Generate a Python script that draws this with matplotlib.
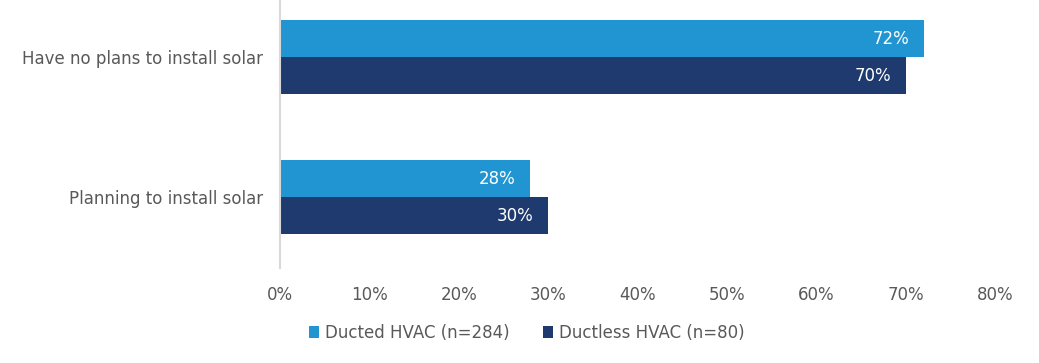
import matplotlib
matplotlib.use("Agg")
import matplotlib.pyplot as plt
import numpy as np

categories = ["Have no plans to install solar", "Planning to install solar"]
ducted = [72, 28]
ductless = [70, 30]
series_names = ["Ducted HVAC (n=284)", "Ductless HVAC (n=80)"]
xticks = [0, 10, 20, 30, 40, 50, 60, 70, 80]

c1 = "#2195D1"
c2 = "#1F3A6F"
tc = "#595959"

plt.rcParams['font.family'] = ['DejaVu Sans']

fig = plt.figure(figsize=(10.39, 3.63), dpi=100)
ax = fig.add_axes([280/1039, 1 - 268/363, (995-280)/1039, 268/363])

y = np.arange(len(categories))
h = 0.265
b1 = ax.barh(y - h/2, ducted, height=h, color=c1, label=series_names[0])
b2 = ax.barh(y + h/2, ductless, height=h, color=c2, label=series_names[1])
for bars, vals in ((b1, ducted), (b2, ductless)):
    for rect, v in zip(bars, vals):
        ax.text(rect.get_width() - 1.6, rect.get_y() + rect.get_height()/2, f"{v}%",
                ha="right", va="center", color="white", fontsize=12)

ax.set_xlim(0, 80)
ax.set_ylim(1.505, -0.41)
ax.set_yticks(y)
ax.set_yticklabels(categories, fontsize=12, color=tc)
ax.set_xticks(xticks)
ax.set_xticklabels([f"{t}%" for t in xticks], fontsize=12, color=tc)
ax.tick_params(axis="y", length=0, pad=12)
ax.tick_params(axis="x", length=0, pad=13)
for s in ["top", "right", "bottom"]:
    ax.spines[s].set_visible(False)
ax.spines["left"].set_color("#D9D9D9")
ax.spines["left"].set_linewidth(1.5)

fig.legend(handles=[b1, b2], labels=series_names, loc="center", bbox_to_anchor=(527/1039, 1 - 333/363),
           ncol=2, frameon=False, fontsize=12, labelcolor=tc, handlelength=0.6, handleheight=0.75,
           handletextpad=0.36, columnspacing=2.0)

fig.savefig("out.png", dpi=100)
